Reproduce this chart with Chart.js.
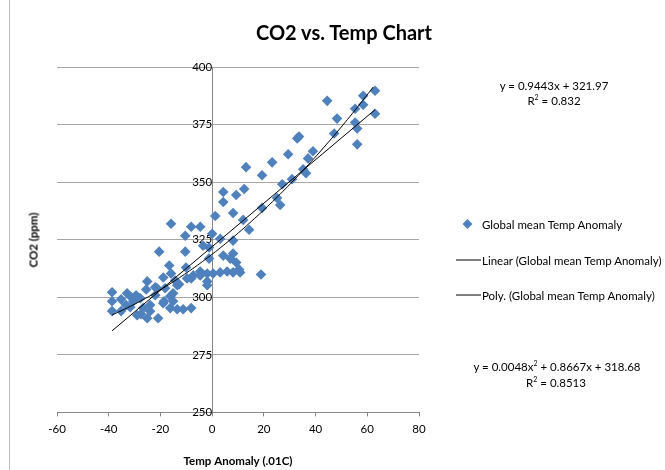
<!DOCTYPE html>
<html>
<head>
<meta charset="utf-8">
<script src="https://cdn.jsdelivr.net/npm/chart.js@4"></script>
<style>
    body { margin: 0; background: #fff; font-family: Lato, "Open Sans", sans-serif; }
    #wrap { position: relative; width: 665px; height: 470px; }
    .lbl { position: absolute; white-space: nowrap; color: #000; transform: translate(-50%, -50%); font-size: 11.5px; }
    .leg { position: absolute; white-space: nowrap; font-size: 11.5px; transform: translateY(-50%); }
    #edge { position: absolute; left: 9px; top: 0; width: 0; height: 470px; border-left: 1px solid #bfbfbf; }
</style>
</head>
<body>
<div id="wrap">
    <canvas id="co2Chart" width="665" height="470"></canvas>
    <div id="edge"></div>
    <div class="lbl" style="left:344px; top:32px; font-size:20px; font-weight:bold;">CO2 vs. Temp Chart</div>
    <div class="lbl" style="left:33px; top:240px; font-weight:bold; transform: translate(-50%, -50%) rotate(-90deg);">CO2 (ppm)</div>

    <div class="lbl" style="left:554px; top:85px;">y = 0.9443x + 321.97</div>
    <div class="lbl" style="left:554px; top:100px;">R<sup style="font-size:7px">2</sup> = 0.832</div>
    <div class="lbl" style="left:557px; top:366px;">y = 0.0048x<sup style="font-size:7px">2</sup> + 0.8667x + 318.68</div>
    <div class="lbl" style="left:556px; top:382px;">R<sup style="font-size:7px">2</sup> = 0.8513</div>

    <div class="leg" style="left:464px; top:224px; width:7px; height:7px; background:#4F81BD; transform: translateY(-50%) rotate(45deg);"></div>
    <div class="leg" style="left:482px; top:224px;">Global mean Temp Anomaly</div>
    <div class="leg" style="left:456px; top:260px; width:25px; height:0; border-top:1px solid #000;"></div>
    <div class="leg" style="left:482px; top:260px;">Linear (Global mean Temp Anomaly)</div>
    <div class="leg" style="left:456px; top:295px; width:25px; height:0; border-top:1px solid #000;"></div>
    <div class="leg" style="left:482px; top:295px;">Poly. (Global mean Temp Anomaly)</div>
</div>
<script>
// Temp anomaly (.01C) y CO2 (ppm)
const temps = [63.0, 58.4, 58.4, 55.3, 63.0, 44.5, 48.3, 55.3, 56.1, 47.2,
    56.1, 32.9, 33.6, 39.0, 37.1, 29.4, 23.2, 19.3, 35.2, 36.3,
    30.9, 27.1, 25.1, 26.3, 19.3, 18.9, 13.1, 12.4, 9.3, 4.3,
    4.3, 8.1, 12.0, 14.3, 8.1, 3.1, 8.1, 7.0, 4.3, 9.3,
    10.4, 5.8, 8.1, 3.1, 10.8, 1.2, 0.0, -1.2, -3.5, -1.2,
    0.4, -1.9, -4.6, -1.9, -1.9, -4.6, -4.6, -8.1, -10.4, -10.4,
    -10.1, -7.3, -8.1, -11.2, -8.1, -13.5, -9.7, -13.5, -15.9, -20.5,
    -16.6, -15.9, -18.9, -12.8, -14.3, -22.0, -18.2, -15.1, -16.2, -18.6,
    -15.1, -24.0, -18.9, -16.2, -20.9, -24.0, -25.1, -21.3, -22.0, -38.7,
    -38.7, -38.7, -32.9, -35.2, -31.3, -30.5, -33.3, -25.1, -25.5, -26.7,
    -27.5, -29.0, -31.7, -35.2, -27.8, -29.4];
const co2 = [389.7, 387.5, 383.6, 381.9, 379.7, 385.3, 377.6, 375.9, 373.3, 371.1,
    366.4, 369.0, 369.8, 363.4, 360.3, 362.1, 358.6, 353.0, 355.6, 353.9,
    351.3, 349.1, 343.1, 340.1, 338.8, 309.9, 356.5, 347.0, 344.4, 345.7,
    341.4, 336.6, 333.6, 329.3, 324.6, 325.4, 319.0, 316.8, 318.1, 315.1,
    312.1, 311.2, 310.8, 310.8, 310.8, 335.3, 327.6, 321.6, 322.4, 316.8,
    310.3, 310.3, 311.2, 306.9, 305.2, 309.5, 330.6, 330.6, 326.7, 319.8,
    312.9, 309.5, 308.2, 294.8, 295.3, 294.8, 308.2, 305.2, 331.9, 319.8,
    313.8, 310.3, 308.6, 305.6, 307.3, 304.3, 303.9, 301.7, 300.4, 298.3,
    298.3, 296.6, 297.4, 295.3, 290.9, 293.9, 290.9, 303.9, 300.9, 302.2,
    298.3, 294.0, 301.7, 299.1, 300.0, 298.3, 296.6, 306.9, 303.4, 295.3,
    292.7, 292.2, 295.7, 294.0, 299.6, 300.9];

// coeficientes de las líneas de tendencia (tal como aparecen en el gráfico)
const linearCoef = [321.97, 0.9443];
const polyCoef = [318.68, 0.8667, 0.0048];

const xTicks = [-60, -40, -20, 0, 20, 40, 60, 80];
const yTicks = [250, 275, 300, 325, 350, 375, 400];

const puntos = temps.map((t, i) => ({ x: t, y: co2[i] }));

const xMin = Math.min(...temps);
const xMax = Math.max(...temps);
const evalCoef = (coef, x) => coef.reduce((acc, c, i) => acc + c * Math.pow(x, i), 0);

const linearPts = [xMin, xMax].map(x => ({ x: x, y: evalCoef(linearCoef, x) }));
const polyPts = [];
for (let x = xMin; x <= xMax + 0.001; x += 1) {
    polyPts.push({ x: x, y: evalCoef(polyCoef, x) });
}

const tickFont = { family: 'Lato', size: 11.5 };

new Chart(document.getElementById('co2Chart').getContext('2d'), {
    type: 'scatter',
    data: {
        datasets: [
            {
                label: 'Global mean Temp Anomaly',
                data: puntos,
                pointStyle: 'rectRot',
                pointRadius: 5.3,
                backgroundColor: '#4F81BD',
                borderColor: '#4F81BD',
                borderWidth: 0,
                order: 3
            },
            {
                label: 'Linear (Global mean Temp Anomaly)',
                data: linearPts,
                showLine: true,
                borderColor: '#000',
                borderWidth: 1,
                pointRadius: 0,
                order: 1
            },
            {
                label: 'Poly. (Global mean Temp Anomaly)',
                data: polyPts,
                showLine: true,
                borderColor: '#000',
                borderWidth: 1,
                pointRadius: 0,
                order: 2
            }
        ]
    },
    options: {
        responsive: false,
        animation: false,
        layout: { padding: { left: 57, right: 246, top: 67, bottom: 0 } },
        plugins: {
            legend: { display: false },
            title: { display: false },
            tooltip: { enabled: false }
        },
        scales: {
            x: {
                type: 'linear',
                min: -60,
                max: 80,
                afterBuildTicks: axis => { axis.ticks = xTicks.map(v => ({ value: v })); },
                ticks: { font: tickFont, color: '#000', padding: 6, maxRotation: 0 },
                grid: { drawOnChartArea: false, tickLength: 4, color: '#868686' },
                border: { color: '#868686' },
                title: {
                    display: true,
                    text: 'Temp Anomaly (.01C)',
                    font: { family: 'Lato', size: 11.5, weight: 'bold' },
                    color: '#000',
                    padding: { top: 12, bottom: 2 }
                }
            },
            y: {
                type: 'linear',
                position: { x: 0 },
                min: 250,
                max: 400,
                afterBuildTicks: axis => { axis.ticks = yTicks.map(v => ({ value: v })); },
                ticks: { font: tickFont, color: '#000', padding: 3 },
                grid: { color: '#a6a6a6', tickLength: 4 },
                border: { color: '#868686' }
            }
        }
    }
});
</script>
</body>
</html>
